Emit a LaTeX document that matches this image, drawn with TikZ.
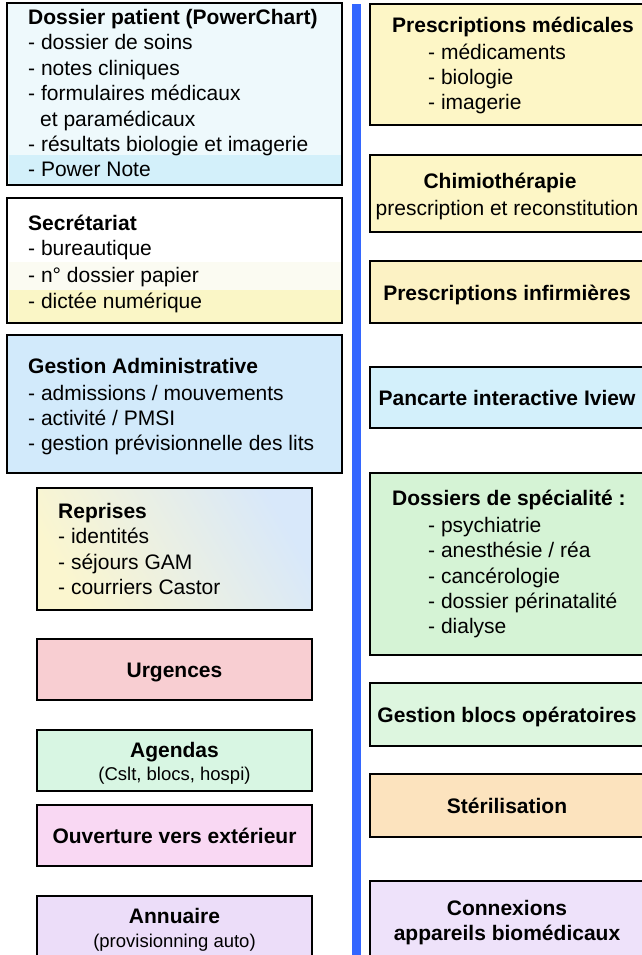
\documentclass[tikz,border=0pt]{standalone}
\usepackage{fontspec}
\setmainfont{Liberation Sans}
\definecolor{cDP}{HTML}{EEF9FC}
\definecolor{cDPband}{HTML}{D3F0FA}
\definecolor{cSEmid}{HTML}{FBFBF2}
\definecolor{cSEband}{HTML}{FAF6C6}
\definecolor{cGA}{HTML}{D2EAFB}
\definecolor{cREy}{HTML}{FBF6CF}
\definecolor{cREb}{HTML}{D8E8FA}
\definecolor{cUR}{HTML}{F8CED2}
\definecolor{cAG}{HTML}{D8F6E3}
\definecolor{cOU}{HTML}{F9D8F3}
\definecolor{cAN}{HTML}{ECDDF9}
\definecolor{cPM}{HTML}{FDF6C6}
\definecolor{cPI}{HTML}{FCF2C4}
\definecolor{cPA}{HTML}{D3F0FB}
\definecolor{cDS}{HTML}{D5F3D5}
\definecolor{cGB}{HTML}{DDF6DF}
\definecolor{cST}{HTML}{FCE3BE}
\definecolor{cCX}{HTML}{EEE2FA}
\definecolor{cBar}{HTML}{3366FF}
\begin{document}
\begin{tikzpicture}[x=1pt,y=-1pt,
  box/.style={draw=black, line width=2.8pt, rectangle, inner sep=0pt, outer sep=0pt, anchor=north west},
  txt/.style={inner sep=0pt, anchor=base west, font=\fontsize{21}{25}\selectfont},
  btxt/.style={inner sep=0pt, anchor=base west, font=\fontsize{21}{25}\selectfont\bfseries},
  ctxt/.style={inner sep=0pt, anchor=base, font=\fontsize{21}{25}\selectfont},
  cbtxt/.style={inner sep=0pt, anchor=base, font=\fontsize{21}{25}\selectfont\bfseries},
  cstxt/.style={inner sep=0pt, anchor=base, font=\fontsize{18.5}{22}\selectfont},
  band/.style={draw=none, inner sep=0pt, outer sep=0pt, rectangle, anchor=north west}]
\useasboundingbox (0,0) rectangle (642,955);
\clip (0,0) rectangle (642,955);
\fill[white] (0,0) rectangle (642,955);

% separator bar
\node[band, fill=cBar, minimum width=9pt, minimum height=960pt] (bar) at (352,4) {};

% ---------- left column ----------
\node[box, fill=cDP, minimum width=335pt, minimum height=182pt] (dp) at (7,3) {};
\node[band, fill=cDPband, minimum width=332pt, minimum height=28.5pt] (dpband) at (8.5,155) {};
\node[btxt] (dp0) at (28,25) {Dossier patient (PowerChart)};
\node[txt] (dp1) at (28,50) {- dossier de soins};
\node[txt] (dp2) at (28,76) {- notes cliniques};
\node[txt] (dp3) at (28,101) {- formulaires médicaux};
\node[txt] (dp4) at (40,126) {et paramédicaux};
\node[txt] (dp5) at (28,151) {- résultats biologie et imagerie};
\node[txt] (dp6) at (28,176) {- Power Note};

\node[box, fill=white, minimum width=335pt, minimum height=125pt] (se) at (7,198) {};
\node[band, fill=cSEmid, minimum width=332pt, minimum height=28pt] (semid) at (8.5,262) {};
\node[band, fill=cSEband, minimum width=332pt, minimum height=31.5pt] (seband) at (8.5,290) {};
\node[btxt] (se0) at (28,230) {Secrétariat};
\node[txt] (se1) at (28,255) {- bureautique};
\node[txt] (se2) at (28,282) {- n° dossier papier};
\node[txt] (se3) at (28,308) {- dictée numérique};

\node[box, fill=cGA, minimum width=335pt, minimum height=138pt] (ga) at (7,335) {};
\node[btxt] (ga0) at (28,373) {Gestion Administrative};
\node[txt] (ga1) at (28,400) {- admissions / mouvements};
\node[txt] (ga2) at (28,425) {- activité / PMSI};
\node[txt] (ga3) at (28,450) {- gestion prévisionnelle des lits};

\node[box, left color=cREy, right color=cREb, shading angle=120, minimum width=275pt, minimum height=122pt] (re) at (37,488) {};
\node[btxt] (re0) at (58,518) {Reprises};
\node[txt] (re1) at (58,543) {- identités};
\node[txt] (re2) at (58,569) {- séjours GAM};
\node[txt] (re3) at (58,594) {- courriers Castor};

\node[box, fill=cUR, minimum width=275pt, minimum height=61pt] (ur) at (37,639) {};
\node[cbtxt] (ur0) at (174.5,677) {Urgences};

\node[box, fill=cAG, minimum width=275pt, minimum height=61pt] (ag) at (37,730) {};
\node[cbtxt] (ag0) at (174.5,757) {Agendas};
\node[cstxt] (ag1) at (174.5,780) {(Cslt, blocs, hospi)};

\node[box, fill=cOU, minimum width=275pt, minimum height=61pt] (ou) at (37,805) {};
\node[cbtxt] (ou0) at (174.5,843) {Ouverture vers extérieur};

\node[box, fill=cAN, minimum width=275pt, minimum height=70pt] (an) at (37,896) {};
\node[cbtxt] (an0) at (174.5,923) {Annuaire};
\node[cstxt] (an1) at (174.5,947) {(provisionning auto)};

% ---------- right column ----------
\node[box, fill=cPM, minimum width=278pt, minimum height=121pt] (pm) at (370,4) {};
\node[btxt] (pm0) at (392,33) {Prescriptions médicales};
\node[txt] (pm1) at (428,60) {- médicaments};
\node[txt] (pm2) at (428,85) {- biologie};
\node[txt] (pm3) at (428,110) {- imagerie};

\node[box, fill=cPM, minimum width=278pt, minimum height=77pt] (ch) at (370,155) {};
\node[cbtxt] (ch0) at (500,188) {Chimiothérapie};
\node[ctxt] (ch1) at (507,215) {prescription et reconstitution};

\node[box, fill=cPI, minimum width=278pt, minimum height=62pt] (pi) at (370,261) {};
\node[cbtxt] (pi0) at (507,300) {Prescriptions infirmières};

\node[box, fill=cPA, minimum width=278pt, minimum height=61pt] (pa) at (370,367) {};
\node[cbtxt] (pa0) at (507,405) {Pancarte interactive Iview};

\node[box, fill=cDS, minimum width=278pt, minimum height=182pt] (ds) at (370,473) {};
\node[btxt] (ds0) at (392,505) {Dossiers de spécialité :};
\node[txt] (ds1) at (428,532) {- psychiatrie};
\node[txt] (ds2) at (428,557) {- anesthésie / réa};
\node[txt] (ds3) at (428,583) {- cancérologie};
\node[txt] (ds4) at (428,608) {- dossier périnatalité};
\node[txt] (ds5) at (428,633) {- dialyse};

\node[box, fill=cGB, minimum width=278pt, minimum height=63pt] (gb) at (370,683) {};
\node[cbtxt] (gb0) at (507,722) {Gestion blocs opératoires};

\node[box, fill=cST, minimum width=278pt, minimum height=63pt] (st) at (370,774) {};
\node[cbtxt] (st0) at (507,813) {Stérilisation};

\node[box, fill=cCX, minimum width=278pt, minimum height=85pt] (cx) at (370,881) {};
\node[cbtxt] (cx0) at (507,915) {Connexions};
\node[cbtxt] (cx1) at (507,940) {appareils biomédicaux};
\end{tikzpicture}
\end{document}
